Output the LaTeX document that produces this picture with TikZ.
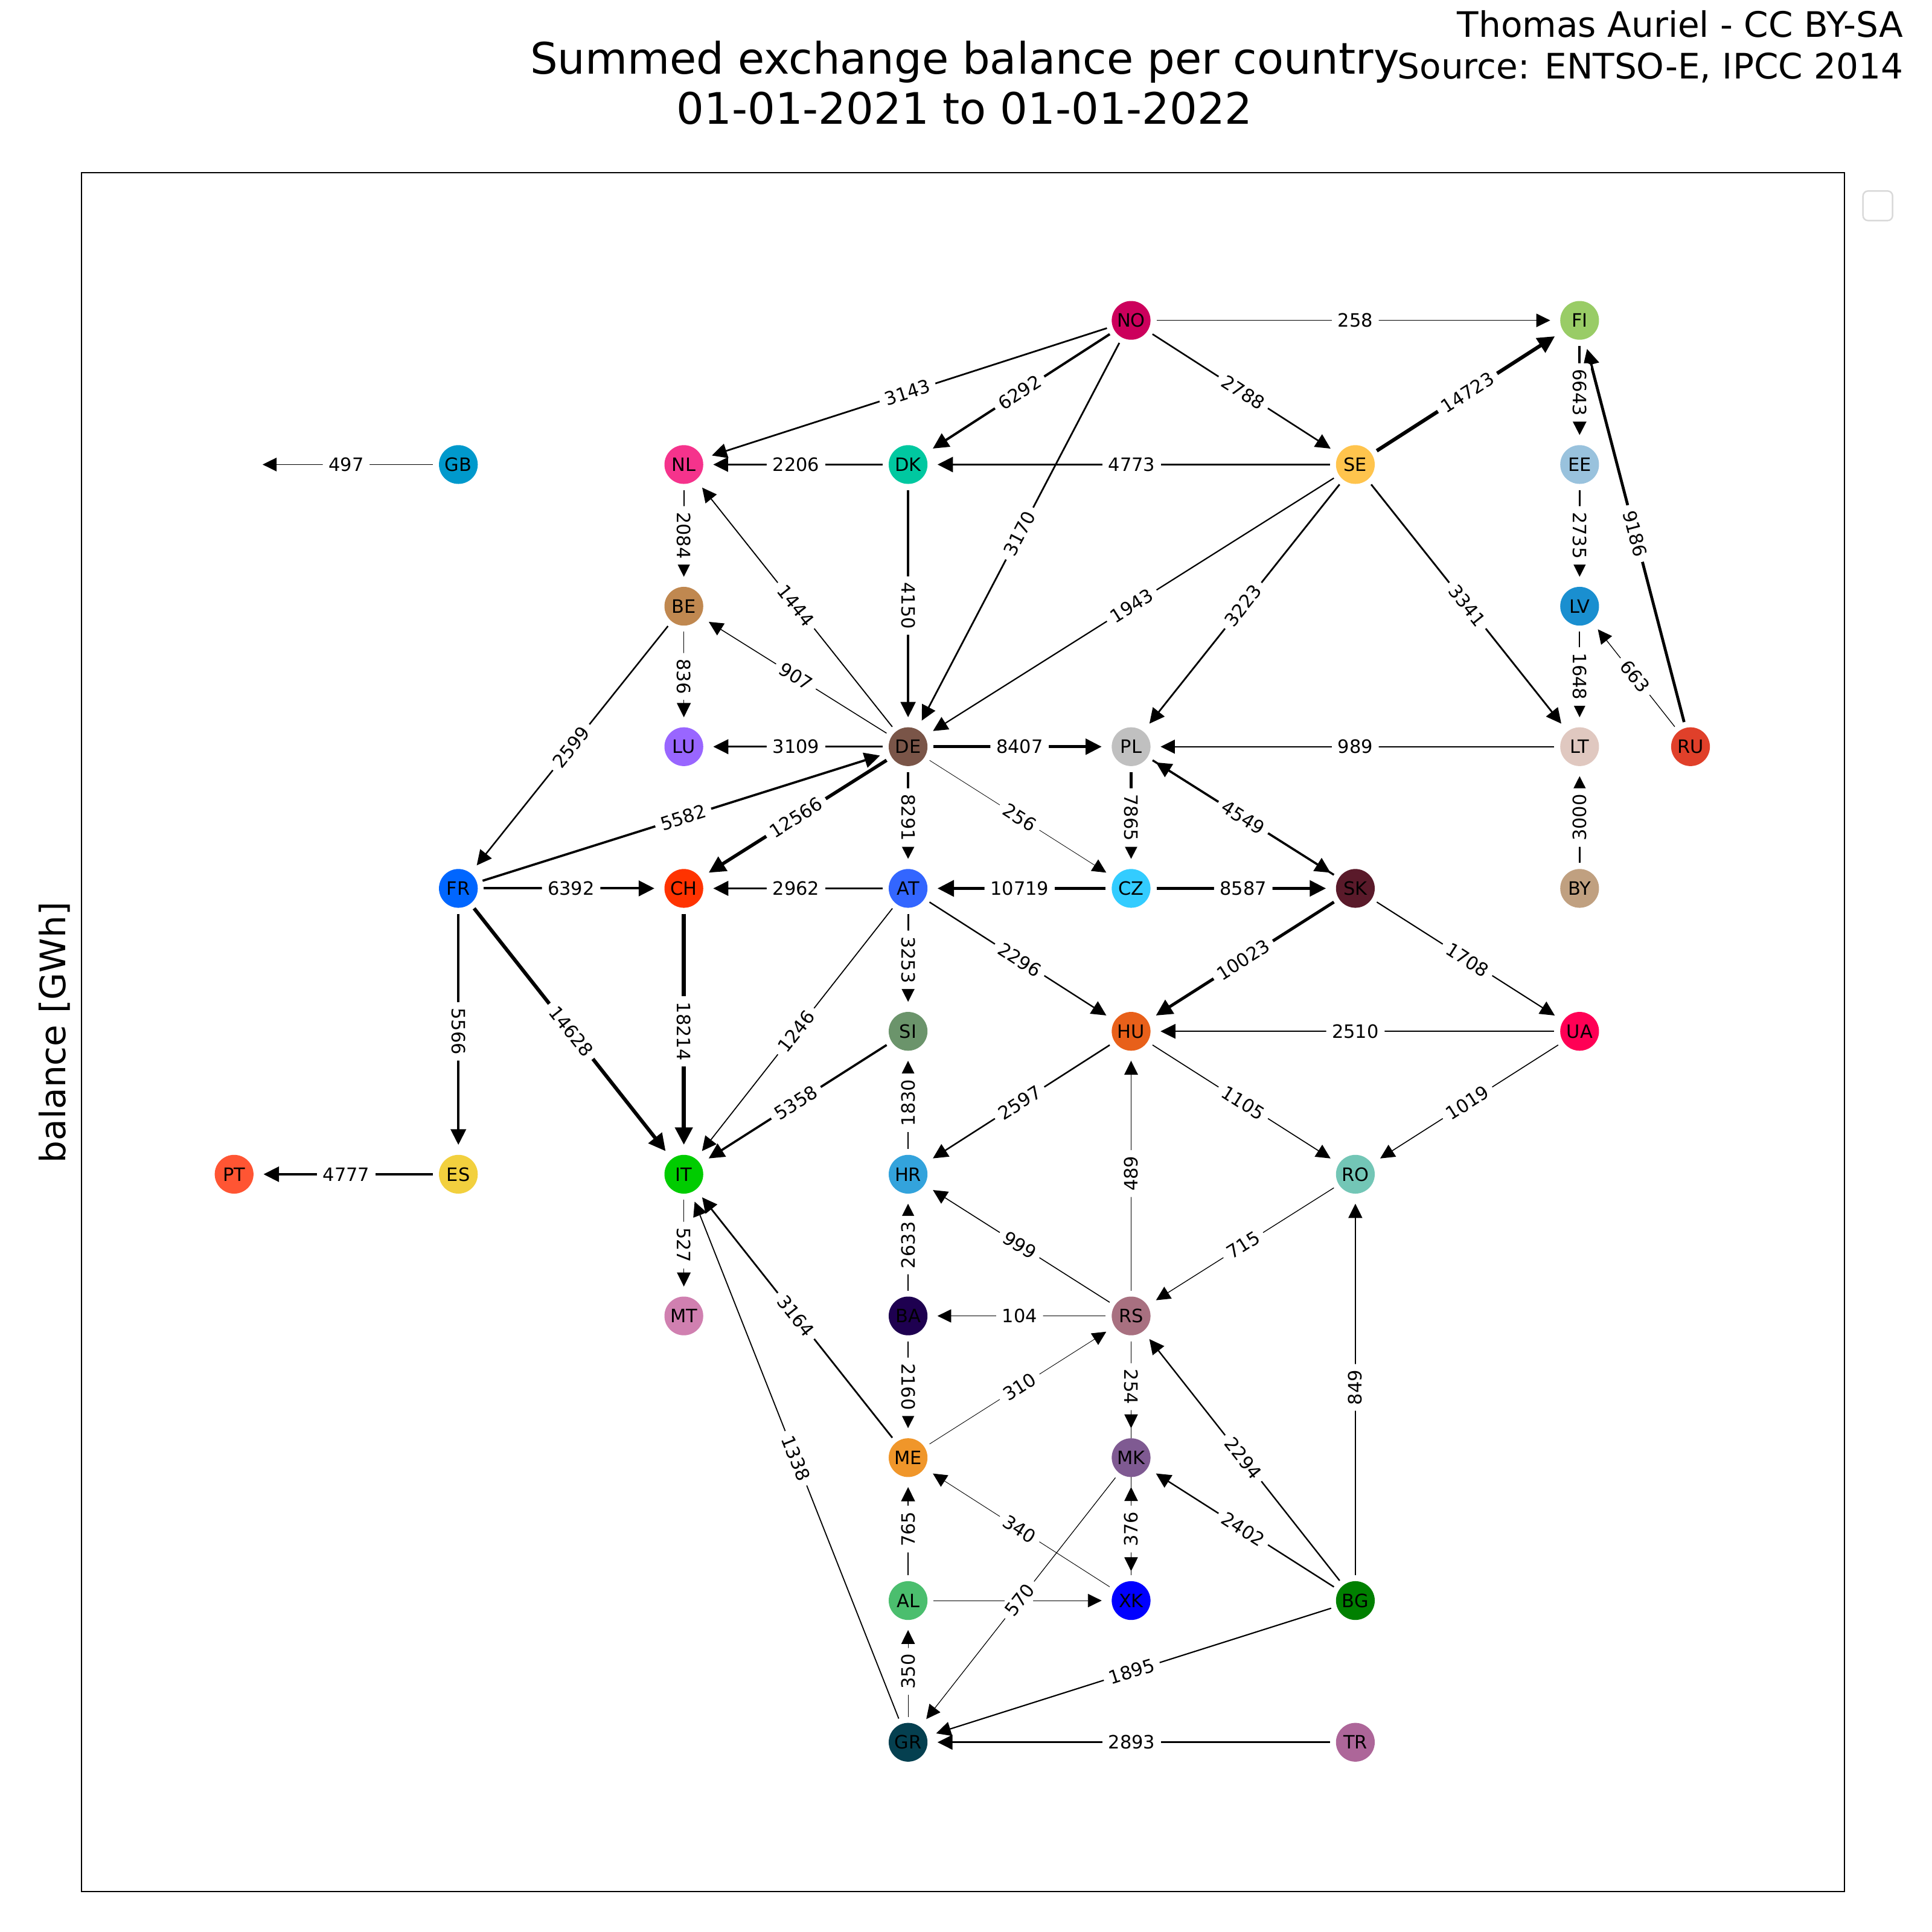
\documentclass[tikz,border=0pt]{standalone}
\usepackage{fontspec}
\setmainfont{DejaVu Sans}
\usetikzlibrary{arrows.meta}

\pgfdeclarelayer{edges}
\pgfdeclarelayer{labels}
\pgfsetlayers{edges,labels,main}

\definecolor{cNO}{HTML}{CC005C}
\definecolor{cFI}{HTML}{99CC66}
\definecolor{cGB}{HTML}{0099CC}
\definecolor{cNL}{HTML}{F5338C}
\definecolor{cDK}{HTML}{00C8A0}
\definecolor{cSE}{HTML}{FFC44D}
\definecolor{cEE}{HTML}{99C2DD}
\definecolor{cBE}{HTML}{C08850}
\definecolor{cLV}{HTML}{1A8FD0}
\definecolor{cLU}{HTML}{9966FF}
\definecolor{cDE}{HTML}{7A5548}
\definecolor{cPL}{HTML}{C0C0C0}
\definecolor{cLT}{HTML}{E0C8C0}
\definecolor{cRU}{HTML}{E0402A}
\definecolor{cFR}{HTML}{0066FF}
\definecolor{cCH}{HTML}{FF3300}
\definecolor{cAT}{HTML}{3366FF}
\definecolor{cCZ}{HTML}{33CCFF}
\definecolor{cSK}{HTML}{5A1A2A}
\definecolor{cBY}{HTML}{C0A080}
\definecolor{cSI}{HTML}{6B946B}
\definecolor{cHU}{HTML}{E8601A}
\definecolor{cUA}{HTML}{FF0055}
\definecolor{cPT}{HTML}{FF5533}
\definecolor{cES}{HTML}{F2D03E}
\definecolor{cIT}{HTML}{00CC00}
\definecolor{cHR}{HTML}{33A3DC}
\definecolor{cRO}{HTML}{73C6B6}
\definecolor{cMT}{HTML}{D080B0}
\definecolor{cBA}{HTML}{1E0050}
\definecolor{cRS}{HTML}{A87080}
\definecolor{cME}{HTML}{F0962A}
\definecolor{cMK}{HTML}{7F5A92}
\definecolor{cAL}{HTML}{4BBE6E}
\definecolor{cXK}{HTML}{0000FF}
\definecolor{cBG}{HTML}{008000}
\definecolor{cGR}{HTML}{054050}
\definecolor{cTR}{HTML}{AD6699}

\tikzset{
  cty/.style={circle, fill=#1, minimum size=0.816cm, inner sep=0pt, outer sep=0.127cm,
    font=\fontsize{11}{13}\selectfont},
  ex/.style={-{Triangle[length=8pt 1, width=7.8pt 1]}, line width=\fpeval{sqrt(#1)*0.018}pt,
    shorten >=2.4pt},
  lbl/.style={fill=white, rounded corners=2pt, inner xsep=3.5pt, inner ysep=2.5pt, sloped,
    font=\fontsize{11}{13}\selectfont},
}

\begin{document}
\begin{tikzpicture}[x=0.02592cm, y=-0.02592cm]
    \useasboundingbox (0,0) rectangle (1568,1568);
    % frame, empty legend, texts
    \draw[line width=0.8pt] (66,140) rectangle (1497,1535);
    \draw[gray!30, line width=0.9pt, rounded corners=3pt] (1512,155) rectangle (1536,179);
    \node[font=\fontsize{26}{30}\selectfont, align=center] (title) at (783,67)
        {Summed exchange balance per country\\01-01-2021 to 01-01-2022};
    \node[font=\fontsize{21}{25}\selectfont, align=right, anchor=east, inner sep=0pt] (credit)
        at (1545,38) {Thomas Auriel - CC BY-SA\\Source: ENTSO-E, IPCC 2014};
    \node[font=\fontsize{21}{25}\selectfont, rotate=90] (ylab) at (44,838) {balance [GWh]};

    % countries
    \foreach \n/\x/\y in {NO/918/260, FI/1282/260,
        GB/372/377, NL/555/377, DK/737/377, SE/1100/377, EE/1282/377,
        BE/555/492, LV/1282/492,
        LU/555/606, DE/737/606, PL/918/606, LT/1282/606, RU/1372/606,
        FR/372/721, CH/555/721, AT/737/721, CZ/918/721, SK/1100/721, BY/1282/721,
        SI/737/837, HU/918/837, UA/1282/837,
        PT/190/953, ES/372/953, IT/555/953, HR/737/953, RO/1100/953,
        MT/555/1068, BA/737/1068, RS/918/1068,
        ME/737/1183, MK/918/1183,
        AL/737/1299, XK/918/1299, BG/1100/1299,
        GR/737/1414, TR/1100/1414} {
        \node[cty=c\n] (\n) at (\x,\y) {\n};
    }
    \coordinate (ie) at (190,377);

    % exchanges
    \foreach \a/\b/\v in {NO/FI/258, NO/NL/3143, NO/DK/6292, NO/DE/3170, NO/SE/2788,
        DK/NL/2206, SE/DK/4773, SE/FI/14723, FI/EE/6643, RU/FI/9186,
        NL/BE/2084, DE/NL/1444, DK/DE/4150, SE/DE/1943, SE/PL/3223, SE/LT/3341,
        EE/LV/2735, BE/LU/836, DE/BE/907, BE/FR/2599, LV/LT/1648, RU/LV/663,
        DE/LU/3109, DE/PL/8407, LT/PL/989, FR/DE/5582, DE/CH/12566, DE/AT/8291,
        DE/CZ/256, PL/CZ/7865, PL/SK/4549, BY/LT/3000, FR/CH/6392, AT/CH/2962,
        CZ/AT/10719, CZ/SK/8587, AT/SI/3253, AT/HU/2296, AT/IT/1246, SK/HU/10023,
        SK/UA/1708, UA/HU/2510, FR/ES/5566, FR/IT/14628, CH/IT/18214, SI/IT/5358,
        HR/SI/1830, HU/HR/2597, HU/RO/1105, UA/RO/1019, ES/PT/4777, IT/MT/527,
        BA/HR/2633, RS/HR/999, RS/HU/489, RO/RS/715, RS/BA/104, BG/RO/849,
        ME/IT/3164, GR/IT/1338, BA/ME/2160, ME/RS/310, RS/MK/254, BG/RS/2294,
        AL/ME/765, XK/ME/340, XK/MK/376, BG/MK/2402, MK/GR/570, GR/AL/350,
        BG/GR/1895, TR/GR/2893} {
        \begin{pgfonlayer}{edges}
            \draw[ex=\v] (\a) -- (\b);
        \end{pgfonlayer}
        \begin{pgfonlayer}{labels}
            \path (\a) -- node[lbl] {\v} (\b);
        \end{pgfonlayer}
    }
    % reverse flows and hidden labels
    \begin{pgfonlayer}{edges}
        \draw[ex=4549] (SK) -- (PL);
        \draw[ex=300] (RS) -- (XK);
        \draw[ex=150] (AL) -- (XK);
        \draw[ex=497, shorten >=0.6cm] (GB) -- (ie);
    \end{pgfonlayer}
    \begin{pgfonlayer}{labels}
        \path (GB.center) -- node[lbl] {497} (ie);
    \end{pgfonlayer}
\end{tikzpicture}
\end{document}
